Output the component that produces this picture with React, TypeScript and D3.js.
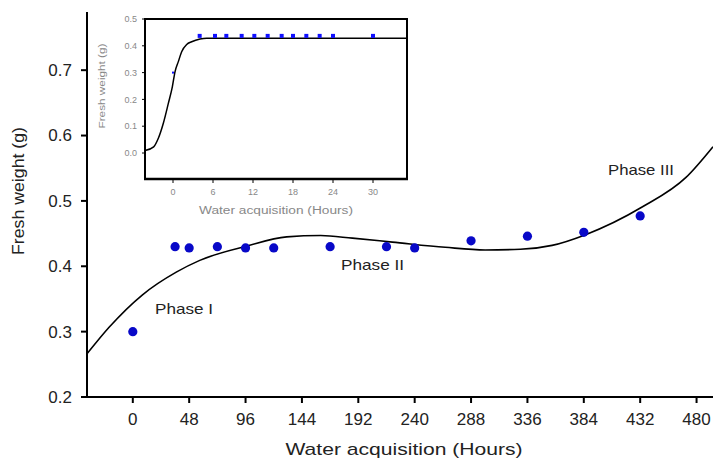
import React from "react";
import * as d3 from "d3";

// Main chart data
const mainHours = [0, 36, 48, 72, 96, 120, 168, 216, 240, 288, 336, 384, 432];
const mainWeights = [0.300, 0.430, 0.428, 0.430, 0.428, 0.428, 0.430, 0.430, 0.428, 0.439, 0.446, 0.452, 0.477];

// Fitted trend curve
const fitHours = [-39, -20, 8, 37, 57, 97, 131, 160, 187, 221, 266, 300, 330, 357, 385, 434, 471, 494];
const fitWeights = [0.266, 0.307, 0.356, 0.391, 0.409, 0.431, 0.445, 0.447, 0.443, 0.437, 0.429, 0.425, 0.426, 0.432, 0.448, 0.491, 0.536, 0.583];

const mainXTicks = [0, 48, 96, 144, 192, 240, 288, 336, 384, 432, 480];
const mainYTicks = [0.2, 0.3, 0.4, 0.5, 0.6, 0.7];

// Inset data
const insetHours = [0, 4, 6.3, 8, 10.3, 12.2, 14.2, 16.3, 18, 20, 22, 24, 30];
const insetWeights = [0.30, 0.437, 0.437, 0.437, 0.437, 0.437, 0.437, 0.437, 0.437, 0.437, 0.437, 0.437, 0.437];

const insetFitHours = [-4.2, -2.9, -2.2, -1.45, -0.7, -0.1, 0.3, 0.8, 1.3, 2.05, 2.8, 4.05, 5.05, 35.1];
const insetFitWeights = [0.009, 0.023, 0.055, 0.111, 0.185, 0.247, 0.303, 0.341, 0.378, 0.405, 0.415, 0.425, 0.428, 0.428];

const insetXTicks = [0, 6, 12, 18, 24, 30];
const insetYTicks = [0.0, 0.1, 0.2, 0.3, 0.4, 0.5];

const phaseLabels = ["Phase I", "Phase II", "Phase III"];

const FONT = "'Liberation Sans', Arial, sans-serif";

export default function App() {
  const x = d3.scaleLinear().domain([-39, 494]).range([87, 713]);
  const y = d3.scaleLinear().domain([0.2, 0.789]).range([397, 12]);

  const xi = d3.scaleLinear().domain([-4.2, 35.1]).range([145, 407]);
  const yi = d3.scaleLinear().domain([-0.097, 0.5]).range([179, 19]);

  const fitLine = d3
    .line<number>()
    .x((d, i) => x(fitHours[i]))
    .y((d) => y(d))
    .curve(d3.curveMonotoneX);

  const insetLine = d3
    .line<number>()
    .x((d, i) => xi(insetFitHours[i]))
    .y((d) => yi(d))
    .curve(d3.curveMonotoneX);

  const blue = "#0808c8";

  return (
    <svg
      width={713}
      height={460}
      style={{ position: "absolute", left: 0, top: 0, background: "#fff" }}
      fontFamily={FONT}
    >
      <rect x={0} y={0} width={713} height={460} fill="#fff" />

      {/* Main axes */}
      <line x1={87} x2={87} y1={12} y2={398} stroke="#000" strokeWidth={2} />
      <line x1={86} x2={713} y1={397} y2={397} stroke="#000" strokeWidth={2} />

      {mainYTicks.map((t) => (
        <g key={"yt" + t}>
          <line x1={81} x2={87} y1={y(t)} y2={y(t)} stroke="#000" strokeWidth={2} />
          <text x={72} y={y(t)} dy="0.35em" textAnchor="end" fontSize={17} fill="#222">
            {t.toFixed(1)}
          </text>
        </g>
      ))}
      {mainXTicks.map((t) => (
        <g key={"xt" + t}>
          <line x1={x(t)} x2={x(t)} y1={397} y2={403} stroke="#000" strokeWidth={2} />
          <text x={x(t)} y={419} dy="0.35em" textAnchor="middle" fontSize={17} fill="#222">
            {t}
          </text>
        </g>
      ))}

      <text
        x={404}
        y={449}
        dy="0.35em"
        textAnchor="middle"
        fontSize={17}
        fill="#222"
        textLength={237}
        lengthAdjust="spacingAndGlyphs"
      >
        Water acquisition (Hours)
      </text>
      <text
        transform="translate(18,191) rotate(-90)"
        textAnchor="middle"
        dy="0.35em"
        fontSize={17}
        fill="#222"
        textLength={128}
        lengthAdjust="spacingAndGlyphs"
      >
        Fresh weight (g)
      </text>

      {/* Fitted curve */}
      <path d={fitLine(fitWeights) || ""} fill="none" stroke="#000" strokeWidth={1.6} />

      {/* Data points */}
      {mainHours.map((h, i) => (
        <circle key={"p" + i} cx={x(h)} cy={y(mainWeights[i])} r={4.6} fill={blue} />
      ))}

      {/* Phase labels */}
      <text x={155} y={309} dy="0.35em" fontSize={15} fill="#222" textLength={58} lengthAdjust="spacingAndGlyphs">
        {phaseLabels[0]}
      </text>
      <text x={341} y={265} dy="0.35em" fontSize={15} fill="#222" textLength={63} lengthAdjust="spacingAndGlyphs">
        {phaseLabels[1]}
      </text>
      <text x={608} y={170} dy="0.35em" fontSize={15} fill="#222" textLength={66} lengthAdjust="spacingAndGlyphs">
        {phaseLabels[2]}
      </text>

      {/* Inset */}
      <rect x={145} y={19} width={262} height={160} fill="#fff" stroke="#000" strokeWidth={2} />
      <line x1={144} x2={408} y1={179} y2={179} stroke="#000" strokeWidth={2.6} />

      {insetYTicks.map((t) => (
        <g key={"iyt" + t}>
          <line x1={142} x2={145} y1={yi(t)} y2={yi(t)} stroke="#000" strokeWidth={1} />
          <text x={137} y={yi(t)} dy="0.35em" textAnchor="end" fontSize={9} fill="#888">
            {t.toFixed(1)}
          </text>
        </g>
      ))}
      {insetXTicks.map((t) => (
        <g key={"ixt" + t}>
          <line x1={xi(t)} x2={xi(t)} y1={179} y2={183} stroke="#000" strokeWidth={1} />
          <text x={xi(t)} y={192} dy="0.35em" textAnchor="middle" fontSize={9} fill="#888">
            {t}
          </text>
        </g>
      ))}
      <text
        x={276}
        y={210}
        dy="0.35em"
        textAnchor="middle"
        fontSize={10}
        fill="#888"
        textLength={154}
        lengthAdjust="spacingAndGlyphs"
      >
        Water acquisition  (Hours)
      </text>
      <text
        transform="translate(102,86) rotate(-90)"
        textAnchor="middle"
        dy="0.35em"
        fontSize={9}
        fill="#888"
        textLength={85}
        lengthAdjust="spacingAndGlyphs"
      >
        Fresh weight (g)
      </text>

      <path d={insetLine(insetFitWeights) || ""} fill="none" stroke="#000" strokeWidth={1.5} />
      {insetHours.map((h, i) => (
        <rect
          key={"ip" + i}
          x={xi(h) - (i === 0 ? 1 : 2)}
          y={yi(insetWeights[i]) - (i === 0 ? 1 : 2)}
          width={i === 0 ? 2 : 4}
          height={i === 0 ? 2 : 4}
          fill="#1010ff"
        />
      ))}
    </svg>
  );
}
